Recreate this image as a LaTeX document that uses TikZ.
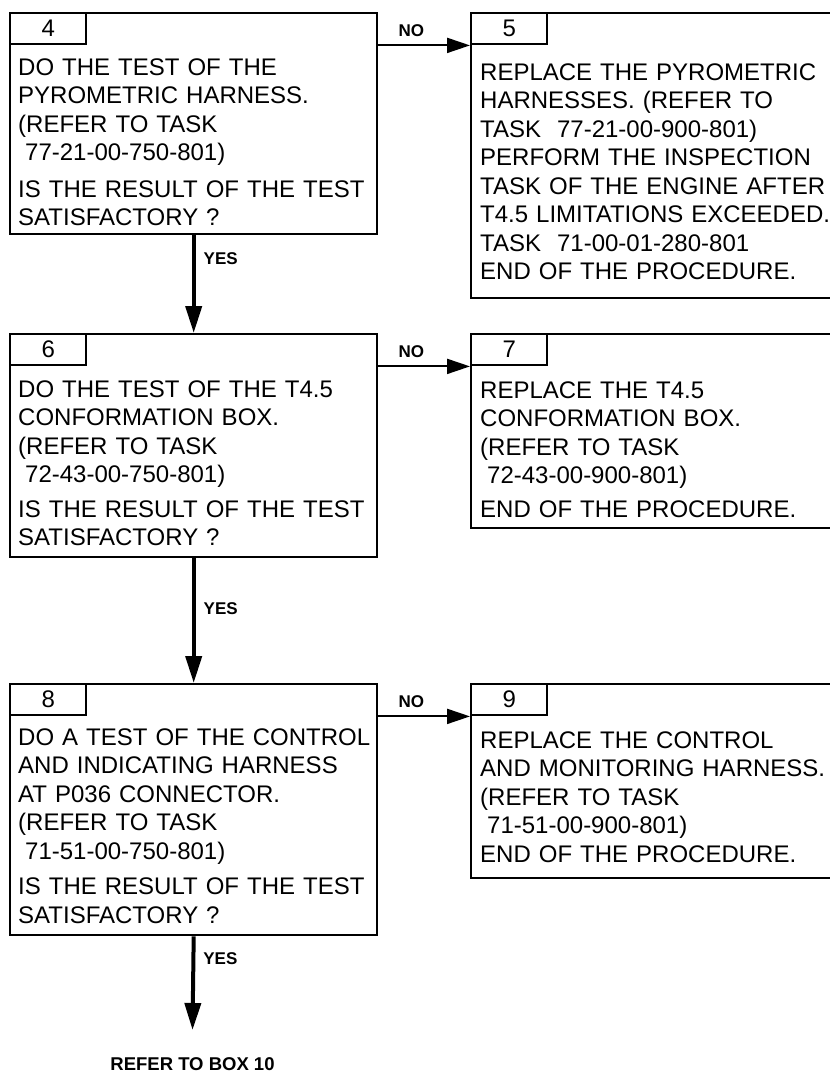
\documentclass[tikz,border=0pt]{standalone}
\usepackage{fontspec}
\setmainfont{Liberation Sans}
\usepackage{tikz}
\usetikzlibrary{positioning,arrows.meta}
\tikzstyle{stepframe} = [draw, line width=2.4pt, inner sep=0pt, anchor=north west]
\tikzstyle{numbox}    = [draw, line width=2.4pt, inner sep=0pt, minimum width=76pt, minimum height=31pt, anchor=north west, font=\fontsize{24}{28.5}\selectfont]
\tikzstyle{steptext}  = [inner sep=0pt, anchor=base west, text width=400pt, align=left, font=\fontsize{24}{28.5}\selectfont]
\tikzstyle{yesarrow}  = [line width=4pt, -{Triangle[length=27pt,width=16pt]}]
\tikzstyle{noarrow}   = [line width=2pt, -{Triangle[length=23pt,width=15pt]}]
\tikzstyle{answer}    = [inner sep=0pt, font=\fontsize{17}{20}\selectfont\bfseries]
\newcommand{\tasknum}{\hspace*{7pt}}

\begin{document}
\begin{tikzpicture}[x=1pt,y=-1pt]
		\useasboundingbox (0,0) rectangle (830,1072);
		\clip (0,0) rectangle (830,1072);

		% left column
		\node[stepframe, minimum width=367pt, minimum height=221pt] (b4) at (9,12) {};
		\node[numbox] (n4) at (b4.north west) {4};
		\node[steptext] (t4) at (18,75) {DO THE TEST OF THE\\
			PYROMETRIC HARNESS.\\
			(REFER TO TASK\\
			\tasknum 77-21-00-750-801)\\[8pt]
			IS THE RESULT OF THE TEST\\
			SATISFACTORY ?};

		\node[stepframe, minimum width=367pt, minimum height=223pt] (b6) at (9,333) {};
		\node[numbox] (n6) at (b6.north west) {6};
		\node[steptext] (t6) at (18,397) {DO THE TEST OF THE T4.5\\
			CONFORMATION BOX.\\
			(REFER TO TASK\\
			\tasknum 72-43-00-750-801)\\[6pt]
			IS THE RESULT OF THE TEST\\
			SATISFACTORY ?};

		\node[stepframe, minimum width=367pt, minimum height=251pt] (b8) at (9,683) {};
		\node[numbox] (n8) at (b8.north west) {8};
		\node[steptext] (t8) at (18,745) {DO A TEST OF THE CONTROL\\
			AND INDICATING HARNESS\\
			AT P036 CONNECTOR.\\
			(REFER TO TASK\\
			\tasknum 71-51-00-750-801)\\[7pt]
			IS THE RESULT OF THE TEST\\
			SATISFACTORY ?};

		% right column
		\node[stepframe, minimum width=364pt, minimum height=285pt] (b5) at (470,12) {};
		\node[numbox] (n5) at (b5.north west) {5};
		\node[steptext] (t5) at (480,80) {REPLACE THE PYROMETRIC\\
			HARNESSES. (REFER TO\\
			TASK~~77-21-00-900-801)\\
			PERFORM THE INSPECTION\\
			TASK OF THE ENGINE AFTER\\
			T4.5 LIMITATIONS EXCEEDED.\\
			TASK~~71-00-01-280-801\\
			END OF THE PROCEDURE.};

		\node[stepframe, minimum width=364pt, minimum height=194pt] (b7) at (470,333) {};
		\node[numbox] (n7) at (b7.north west) {7};
		\node[steptext] (t7) at (480,398) {REPLACE THE T4.5\\
			CONFORMATION BOX.\\
			(REFER TO TASK\\
			\tasknum 72-43-00-900-801)\\[5pt]
			END OF THE PROCEDURE.};

		\node[stepframe, minimum width=364pt, minimum height=194pt] (b9) at (470,683) {};
		\node[numbox] (n9) at (b9.north west) {9};
		\node[steptext] (t9) at (480,748) {REPLACE THE CONTROL\\
			AND MONITORING HARNESS.\\
			(REFER TO TASK\\
			\tasknum 71-51-00-900-801)\\
			END OF THE PROCEDURE.};

		% answers
		\draw[noarrow] (b4.east |- n4.south) -- node[answer, pos=.36, above=8pt] {NO} (b5.west |- n5.south);
		\draw[noarrow] (b6.east |- n6.south) -- node[answer, pos=.36, above=8pt] {NO} (b7.west |- n7.south);
		\draw[noarrow] (b8.east |- n8.south) -- node[answer, pos=.36, above=8pt] {NO} (b9.west |- n9.south);

		\draw[yesarrow] (b4.south) -- node[answer, pos=.30, anchor=base west, xshift=8pt] {YES} (b6.north);
		\draw[yesarrow] (b6.south) -- node[answer, pos=.45, anchor=base west, xshift=8pt] {YES} (b8.north);

		\coordinate (e8) at (192.5,1030);
		\node[answer, font=\fontsize{18.5}{20}\selectfont\bfseries, anchor=base] (ref) at (192.5,1070) {REFER TO BOX 10};
		\draw[yesarrow] (b8.south) -- node[answer, pos=.30, anchor=base west, xshift=8pt] {YES} (e8);
	\end{tikzpicture}
\end{document}
